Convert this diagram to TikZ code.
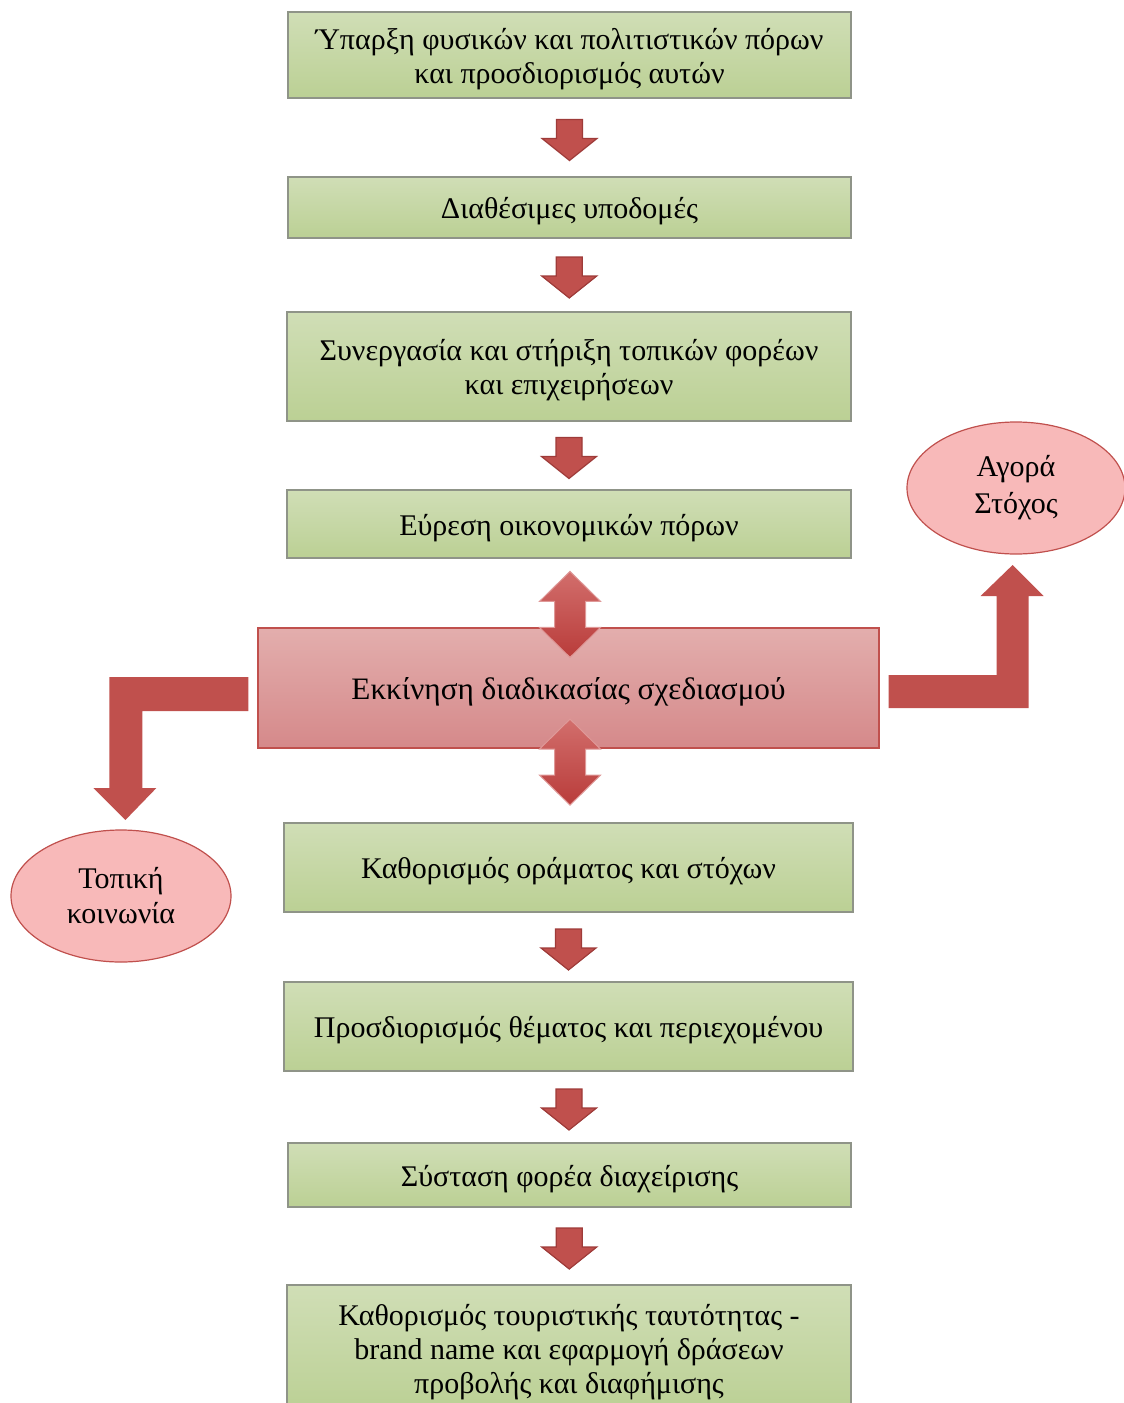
\documentclass[tikz,border=0pt]{standalone}
\usepackage{fontspec}
\setmainfont{Liberation Serif}
\usetikzlibrary{shapes.geometric,calc}
\definecolor{gtop}{HTML}{D0DEB6}
\definecolor{gbot}{HTML}{BBD094}
\definecolor{gbord}{HTML}{8F9488}
\definecolor{ctop}{HTML}{E3AEAD}
\definecolor{cbot}{HTML}{D5898A}
\definecolor{redc}{HTML}{C0504D}
\definecolor{redd}{HTML}{9E3B39}
\definecolor{atop}{HTML}{D26E6C}
\definecolor{abot}{HTML}{B93C3A}
\definecolor{ellf}{HTML}{F8B9B9}
\tikzset{
  gbox/.style={draw=gbord, line width=0.6pt, top color=gtop, bottom color=gbot,
    minimum width=282pt, inner sep=0pt},
  gtext/.style={inner sep=0pt, align=center, yshift=-2pt,
    font=\fontsize{15}{17}\selectfont},
  cbox/.style={draw=redc, line width=0.6pt, top color=ctop, bottom color=cbot,
    minimum width=310.5pt, minimum height=60pt, inner sep=0pt},
  ctext/.style={inner sep=0pt, align=center, yshift=-2pt,
    font=\fontsize{15.6}{18}\selectfont},
  ell/.style={ellipse, draw=redc, line width=0.6pt, fill=ellf, inner sep=0pt,
    align=center, font=\fontsize{15}{17.5}\selectfont},
  smallarrow/.pic={
    \path[fill=redc, draw=redd, line width=0.6pt]
      (-13,-20) -- (13,-20) -- (13,-1) -- (27.5,-1) -- (0,21) -- (-27.5,-1) -- (-13,-1) -- cycle;
  },
  dblarrow/.pic={
    \path[top color=atop, bottom color=abot, draw=atop!70!white, line width=0.5pt]
      (0,-43) -- (30.5,-13) -- (15.5,-13) -- (15.5,13) -- (30.5,13) -- (0,43)
      -- (-30.5,13) -- (-15.5,13) -- (-15.5,-13) -- (-30.5,-13) -- cycle;
  },
  rbent/.pic={
    \path[fill=redc]
      (9,-13) -- (117,-13) -- (117,-92) -- (101,-92) -- (133,-123) -- (164,-92)
      -- (149,-92) -- (149,20) -- (9,20) -- cycle;
  },
  lbent/.pic={
    \path[fill=redc]
      (-9,-11) -- (-148,-11) -- (-148,100) -- (-164,100) -- (-132,132) -- (-101,100)
      -- (-115,100) -- (-115,23) -- (-9,23) -- cycle;
  }
}
\begin{document}
\begin{tikzpicture}[x=0.5pt,y=-0.5pt]
\useasboundingbox (0,0) rectangle (1124,1403);
% boxes
\node[gbox, minimum width=281.5pt, minimum height=43pt] (b1) at (569.5,55) {};
\node[gbox, minimum width=281.5pt, minimum height=30.5pt] (b2) at (569.5,207.5) {};
\node[gbox, minimum height=54.5pt] (b3) at (569,366.5) {};
\node[gbox, minimum height=34pt] (b4) at (569,524) {};
\node[cbox] (c) at (568.5,688) {};
\node[gbox, minimum width=284.5pt, minimum height=44.5pt] (b5) at (568.5,867.5) {};
\node[gbox, minimum width=284.5pt, minimum height=44.5pt] (b6) at (568.5,1026.5) {};
\node[gbox, minimum width=281.5pt, minimum height=32pt] (b7) at (569.5,1175) {};
\node[gbox, minimum height=63.5pt] (b8) at (569,1348.5) {};
% texts
\node[gtext] (t1) at (b1.center) {Ύπαρξη φυσικών και πολιτιστικών πόρων\\και προσδιορισμός αυτών};
\node[gtext] (t2) at (b2.center) {Διαθέσιμες υποδομές};
\node[gtext] (t3) at (b3.center) {Συνεργασία και στήριξη τοπικών φορέων\\και επιχειρήσεων};
\node[gtext] (t4) at (b4.center) {Εύρεση οικονομικών πόρων};
\node[gtext] (t5) at (b5.center) {Καθορισμός οράματος και στόχων};
\node[gtext] (t6) at (b6.center) {Προσδιορισμός θέματος και περιεχομένου};
\node[gtext] (t7) at (b7.center) {Σύσταση φορέα διαχείρισης};
\node[gtext] (t8) at (b8.center) {Καθορισμός τουριστικής ταυτότητας -\\brand name και εφαρμογή δράσεων\\προβολής και διαφήμισης};
% ellipses
\node[ell, minimum width=109pt, minimum height=66pt] (e1) at (1016,488) {Αγορά\\[1pt]Στόχος};
\node[ell, minimum width=110pt, minimum height=66pt] (e2) at (121,896) {Τοπική\\κοινωνία};
% small arrows
\path ($(b1.south)!0.5!(b2.north)+(0,2)$) pic {smallarrow};
\path ($(b2.south)!0.5!(b3.north)+(0,2)$) pic {smallarrow};
\path ($(b3.south)!0.5!(b4.north)+(0,2)$) pic {smallarrow};
\path ($(b5.south)!0.5!(b6.north)+(0,2)$) pic {smallarrow};
\path ($(b6.south)!0.5!(b7.north)+(0,2)$) pic {smallarrow};
\path ($(b7.south)!0.5!(b8.north)+(0,2)$) pic {smallarrow};
% central text and double arrows
\node[ctext] (tc) at (c.center) {Εκκίνηση διαδικασίας σχεδιασμού};
\path ($(c.north)+(1.5,-13)$) pic {dblarrow};
\path ($(c.south)+(1.5,13.5)$) pic {dblarrow};
% bent arrows
\path (c.east) pic {rbent};
\path (c.west) pic {lbent};
\end{tikzpicture}
\end{document}
